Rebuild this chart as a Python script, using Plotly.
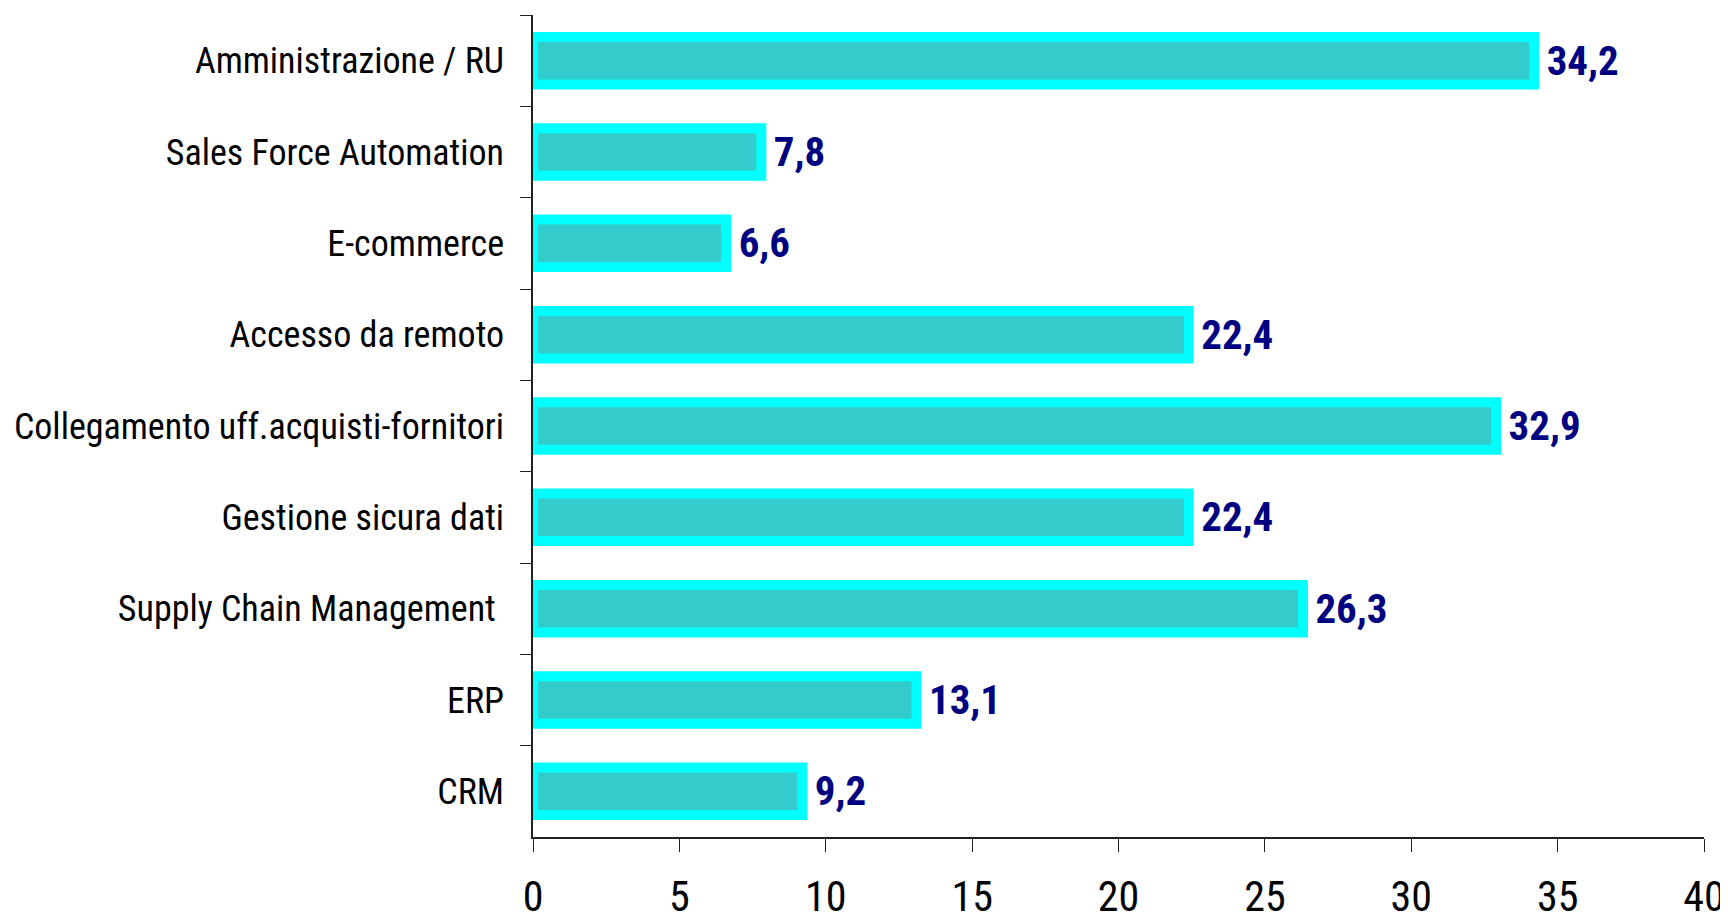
import plotly.graph_objects as go

categories = [
    "Amministrazione / RU",
    "Sales Force Automation",
    "E-commerce",
    "Accesso da remoto",
    "Collegamento uff.acquisti-fornitori",
    "Gestione sicura dati",
    "Supply Chain Management ",
    "ERP",
    "CRM",
]
values = [34.2, 7.8, 6.6, 22.4, 32.9, 22.4, 26.3, 13.1, 9.2]
x_ticks = [0, 5, 10, 15, 20, 25, 30, 35, 40]

NARROW = "Liberation Sans Narrow, Arial Narrow, Roboto Condensed, Arial, sans-serif"

# leading space keeps the value clear of the thick bar outline
labels = [" " + f"{v:.1f}".replace(".", ",") for v in values]

fig = go.Figure(
    go.Bar(
        x=values,
        y=categories,
        orientation="h",
        width=0.52,
        marker={"color": "#33CCCC", "line": {"color": "#00FFFF", "width": 10}},
        text=labels,
        textposition="outside",
        textfont={"family": NARROW, "size": 50, "color": "#000080", "weight": "bold"},
        cliponaxis=False,
        hovertemplate="%{y}: %{x}<extra></extra>",
    )
)

fig.update_layout(
    width=1728,
    height=924,
    margin={"l": 525, "r": 32, "t": 7, "b": 95},
    plot_bgcolor="white",
    paper_bgcolor="white",
    showlegend=False,
    xaxis={
        "range": [0, 40],
        "tickvals": x_ticks,
        "automargin": False,
        "showgrid": False,
        "zeroline": False,
        "showline": True,
        "linecolor": "#222",
        "linewidth": 1.5,
        "ticks": "outside",
        "ticklen": 13,
        "tickcolor": "#222",
        "tickfont": {"family": NARROW, "size": 42, "color": "black"},
        "ticklabelstandoff": 9,
    },
    yaxis={
        "autorange": "reversed",
        "automargin": False,
        "showgrid": False,
        "showline": True,
        "linecolor": "#222",
        "linewidth": 1.5,
        "ticks": "outside",
        "tickson": "boundaries",
        "ticklen": 11,
        "tickcolor": "#222",
        "tickfont": {"family": NARROW, "size": 36, "color": "black"},
        "ticklabelstandoff": 20,
    },
)

fig.write_html("out.html")
